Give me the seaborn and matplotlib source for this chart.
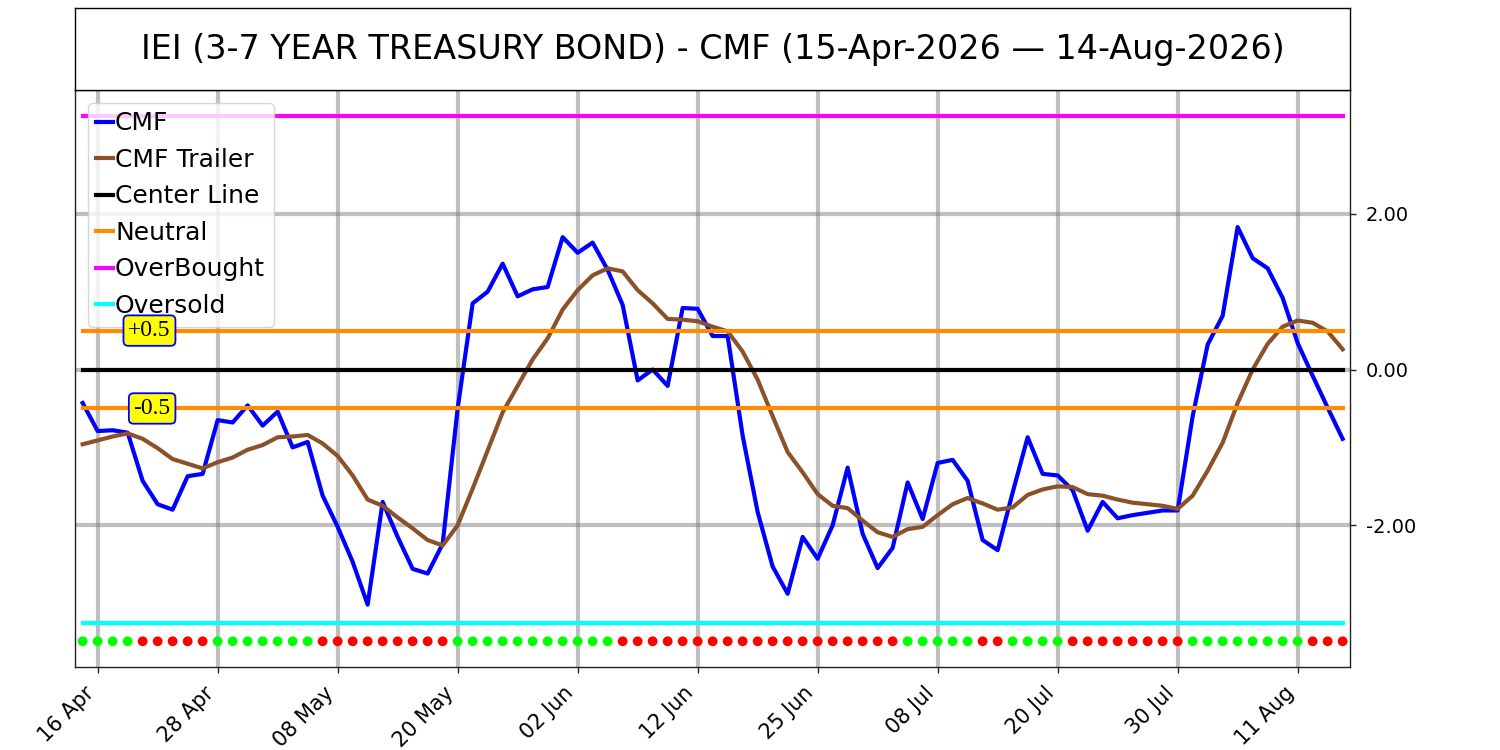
import numpy as np
import pandas as pd
import matplotlib
matplotlib.use("Agg")
import matplotlib.pyplot as plt
from matplotlib.lines import Line2D
import seaborn as sns

# ---------------- data ----------------
title_text = "IEI (3-7 YEAR TREASURY BOND) - CMF (15-Apr-2026 \u2014 14-Aug-2026)"

# trading days 15-Apr-2026 .. 14-Aug-2026 (US market holidays removed)
dates = pd.bdate_range("2026-04-15", "2026-08-14", freq="C",
                       holidays=["2026-05-25", "2026-06-19", "2026-07-03"])

cmf = [-0.43, -0.79, -0.78, -0.81, -1.43, -1.73, -1.80, -1.37, -1.34, -0.65,
       -0.68, -0.46, -0.72, -0.54, -1.00, -0.93, -1.62, -2.02, -2.47, -3.02,
       -1.70, -2.15, -2.56, -2.62, -2.24, -0.50, 0.85, 1.00, 1.36, 0.94,
       1.03, 1.06, 1.70, 1.50, 1.63, 1.28, 0.83, -0.14, 0.00, -0.21,
       0.79, 0.78, 0.43, 0.43, -0.85, -1.83, -2.53, -2.88, -2.15, -2.43,
       -2.00, -1.26, -2.11, -2.55, -2.29, -1.45, -1.92, -1.20, -1.16, -1.43,
       -2.19, -2.32, -1.58, -0.87, -1.34, -1.36, -1.55, -2.07, -1.70, -1.91,
       -1.87, -1.84, -1.81, -1.81, -0.60, 0.32, 0.69, 1.83, 1.43, 1.30,
       0.92, 0.34, -0.08, -0.49, -0.89]

cmf_trailer = [-0.96, -0.91, -0.86, -0.82, -0.89, -1.01, -1.15, -1.21, -1.27, -1.19,
               -1.13, -1.03, -0.97, -0.87, -0.86, -0.84, -0.95, -1.11, -1.36, -1.67,
               -1.75, -1.90, -2.04, -2.19, -2.26, -2.00, -1.53, -1.04, -0.55, -0.21,
               0.13, 0.40, 0.77, 1.02, 1.21, 1.30, 1.26, 1.02, 0.85, 0.65,
               0.64, 0.62, 0.55, 0.49, 0.23, -0.13, -0.60, -1.06, -1.32, -1.60,
               -1.75, -1.78, -1.94, -2.09, -2.15, -2.05, -2.02, -1.87, -1.73, -1.65,
               -1.72, -1.80, -1.77, -1.61, -1.54, -1.50, -1.51, -1.60, -1.62, -1.67,
               -1.71, -1.73, -1.75, -1.79, -1.62, -1.30, -0.94, -0.43, 0.00, 0.33,
               0.55, 0.63, 0.60, 0.49, 0.26]

# per-day signal dots (B = green, S = red)
signal = list("BBBBSSSSSBBBBBBBSSSSSSSSSBBBBBBBBBBBSSSSSSSSSSSSSSSSSSS"
              "BBBBBSSBBBBSSSSSSSSBBBBBBBBSSS")

center_level = 0.0
neutral_levels = [0.5, -0.5]
neutral_labels = ["+0.5", "-0.5"]
overbought_level = 3.26
oversold_level = -3.25
signal_level = -3.49

# ---------------- figure ----------------
fig = plt.figure(figsize=(15, 7.5), dpi=100)
ax = fig.add_axes([0.05, 0.1107, 0.85, 0.7693])
tax = fig.add_axes([0.05, 0.88, 0.85, 0.1093])

idx = np.arange(len(cmf))
df = pd.DataFrame({"idx": idx, "cmf": cmf, "trailer": cmf_trailer,
                   "signal": signal, "date": dates})

sns.lineplot(data=df, x="idx", y="cmf", ax=ax, color="blue", lw=3, legend=False)
sns.lineplot(data=df, x="idx", y="trailer", ax=ax, color="#8B5229", lw=3, legend=False)

x0, x1 = idx[0], idx[-1]
ax.plot([x0, x1], [center_level] * 2, color="black", lw=3)
for lv in neutral_levels:
    ax.plot([x0, x1], [lv] * 2, color="darkorange", lw=3)
ax.plot([x0, x1], [overbought_level] * 2, color="magenta", lw=3)
ax.plot([x0, x1], [oversold_level] * 2, color="cyan", lw=3)

df["sig_y"] = signal_level
sns.scatterplot(data=df, x="idx", y="sig_y", hue="signal",
                palette={"B": "#00ff00", "S": "#ff0000"}, s=50, linewidth=0,
                ax=ax, legend=False, zorder=5)

for lv, lab in zip(neutral_levels, neutral_labels):
    ax.text(5.87, lv, lab, ha="right", va="center", fontsize=17,
            family="Liberation Serif", zorder=12,
            bbox=dict(boxstyle="round,pad=0.2", fc="yellow", ec="blue", lw=1.3))

ax.set_xlim(-0.51, 84.49)
ax.set_ylim(-3.82, 3.59)

tick_idx = idx[1::8]
ax.set_xticks(tick_idx)
ax.set_xticklabels([dates[i].strftime("%d %b") for i in tick_idx],
                   rotation=45, ha="right", fontsize=15)
ax.set_yticks([-2, 0, 2])
ax.set_yticklabels([f"{v:.2f}" for v in [-2, 0, 2]], fontsize=14)
ax.yaxis.tick_right()
ax.tick_params(axis="both", length=4.5, width=1.0, color="#222222", pad=7)
ax.set_xlabel("")
ax.set_ylabel("")
ax.grid(True, color="gray", alpha=0.5, lw=3)
ax.set_axisbelow(True)
for sp in ax.spines.values():
    sp.set_linewidth(1.0)
    sp.set_color("#222222")

handles = [Line2D([], [], color="blue", lw=3),
           Line2D([], [], color="#8B5229", lw=3),
           Line2D([], [], color="black", lw=3),
           Line2D([], [], color="darkorange", lw=3),
           Line2D([], [], color="magenta", lw=3),
           Line2D([], [], color="cyan", lw=3)]
labels = ["CMF", "CMF Trailer", "Center Line", "Neutral", "OverBought", "Oversold"]
leg = ax.legend(handles, labels, loc="upper left", fontsize=18,
                handlelength=0.65, handletextpad=0.1, labelspacing=0.5,
                borderaxespad=0.5, borderpad=0.35)
leg.set_zorder(10)

tax.set_xticks([])
tax.set_yticks([])
tax.text(0.5, 0.5, title_text, ha="center", va="center", fontsize=24,
         transform=tax.transAxes)
for sp in tax.spines.values():
    sp.set_linewidth(1.0)
    sp.set_color("black")

fig.savefig("out.png", dpi=100)
